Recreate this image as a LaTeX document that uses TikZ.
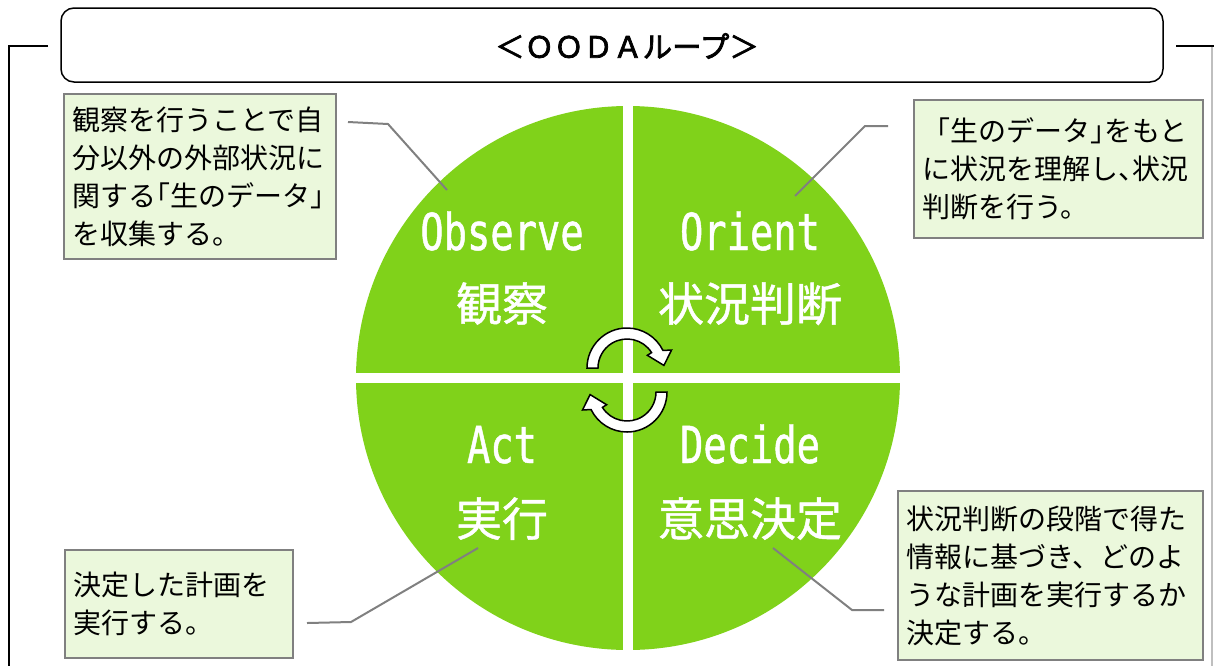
\documentclass[tikz,border=0pt]{standalone}
\usepackage{fontspec}
\setmainfont{Noto Sans CJK JP}
\newfontfamily\monof[FakeStretch=0.76,FakeBold=0.9]{DejaVu Sans Mono}
\newfontfamily\jpb[FakeBold=1]{Noto Sans CJK JP}
\newfontfamily\jpt[FakeBold=2.5]{Noto Sans CJK JP}
\usetikzlibrary{calc}
\definecolor{oodagreen}{HTML}{80D21A}
\definecolor{calloutfill}{HTML}{EBF8DC}
\definecolor{calloutline}{HTML}{808080}
\definecolor{lightframe}{HTML}{BFBFBF}
\begin{document}
\begin{tikzpicture}[x=1pt,y=-1pt,
  callout/.style={draw=calloutline, line width=2pt, fill=calloutfill, anchor=north west, align=left,
    inner xsep=8pt, inner ysep=0pt, font=\fontsize{28}{38}\selectfont, text=black},
  leader/.style={draw=calloutline, line width=2pt},
  entxt/.style={text=white, font=\monof\fontsize{51}{55}\selectfont, anchor=base, inner sep=0pt},
  jptxt/.style={text=white, font=\jpb\fontsize{46}{50}\selectfont, anchor=base, inner sep=0pt},
  cyc/.style={draw=black, line width=1.5pt, fill=white, line join=miter},
  frameline/.style={draw=black, line width=2pt},
  gap/.style={draw=white, line width=10pt}]
\useasboundingbox (0,0) rectangle (1214,665);

% outer frame
\coordinate (fl1) at (48,46);
\coordinate (fl2) at (9,46);
\coordinate (fl3) at (9,668);
\draw[frameline] (fl1) -- (fl2) -- (fl3);
\coordinate (fr1) at (1176,46);
\coordinate (fr2) at (1214,46);
\coordinate (fr3) at (1212,46);
\coordinate (fr4) at (1212,668);
\draw[lightframe, line width=1.2pt] (fr3) -- (fr4);
\draw[frameline] (fr1) -- (fr2);

% title
\node[draw=black, line width=1.5pt, rounded corners=13pt, minimum width=1102pt, minimum height=74pt, inner sep=0pt] (title) at (612,45) {};
\node[font=\jpt\fontsize{29.5}{34}\selectfont, inner sep=0pt] (titletext) at (627,46) {＜ＯＯＤＡループ＞};

% disk
\node[circle, fill=oodagreen, minimum size=544pt, inner sep=0pt] (disk) at (628,378) {};
\draw[gap] ($(disk.north)+(0,-3)$) -- ($(disk.south)+(0,3)$);
\draw[gap] ($(disk.west)+(-3,0)$) -- ($(disk.east)+(3,0)$);

% quadrant labels
\node[entxt] (obsen) at (502,250) {Observe};
\node[jptxt] (obsjp) at (502,321) {観察};
\node[entxt] (orien) at (750,250) {Orient};
\node[jptxt] (orijp) at (750,321) {状況判断};
\node[entxt] (acten) at (502,463) {Act};
\node[jptxt] (actjp) at (502,536) {実行};
\node[entxt] (decen) at (750,463) {Decide};
\node[jptxt] (decjp) at (750,536) {意思決定};

% cycle arrows
\coordinate (U) at (627,368);
\coordinate (L) at (627,392);
\path[cyc] ($(U)+(180:40)$) arc[start angle=180, end angle=334, radius=40]
  -- ($(U)+(338:48)$) -- ($(U)+(356:37)$) -- ($(U)+(328:24)$) -- ($(U)+(328:29)$)
  arc[start angle=328, end angle=180, radius=29] -- cycle;
\path[cyc] ($(L)+(0:40)$) arc[start angle=0, end angle=154, radius=40]
  -- ($(L)+(158:48)$) -- ($(L)+(176:37)$) -- ($(L)+(148:24)$) -- ($(L)+(148:29)$)
  arc[start angle=148, end angle=0, radius=29] -- cycle;

% callouts
\node[callout, text width=256pt, minimum height=165pt] (box1) at (63,93)
  {観察を行うことで自\\分以外の外部状況に\\関する\kern-14pt「生のデータ」\\を収集する。};
\node[callout, text width=273pt, minimum height=138pt] (box2) at (913,99)
  {「生のデータ」\kern-14pt をもと\\に状況を理解し、\kern-14pt 状況\\判断を行う。};
\node[callout, text width=212pt, minimum height=108pt] (box3) at (64,549)
  {決定した計画を\\実行する。};
\node[callout, text width=289pt, minimum height=169pt] (box4) at (897,490)
  {状況判断の段階で得た\\情報に基づき、どのよ\\うな計画を実行するか\\決定する。};

% leaders
\coordinate (c1a) at (348,122);
\coordinate (c1b) at (388,124);
\coordinate (c1c) at (447,190);
\draw[leader] (c1a) -- (c1b) -- (c1c);
\coordinate (c2a) at (888,126);
\coordinate (c2b) at (865,126);
\coordinate (c2c) at (795,196);
\draw[leader] (c2a) -- (c2b) -- (c2c);
\coordinate (c3a) at (307,623);
\coordinate (c3b) at (351,622);
\coordinate (c3c) at (478,548);
\draw[leader] (c3a) -- (c3b) -- (c3c);
\coordinate (c4a) at (884,610);
\coordinate (c4b) at (852,610);
\coordinate (c4c) at (773,548);
\draw[leader] (c4a) -- (c4b) -- (c4c);
\end{tikzpicture}
\end{document}
